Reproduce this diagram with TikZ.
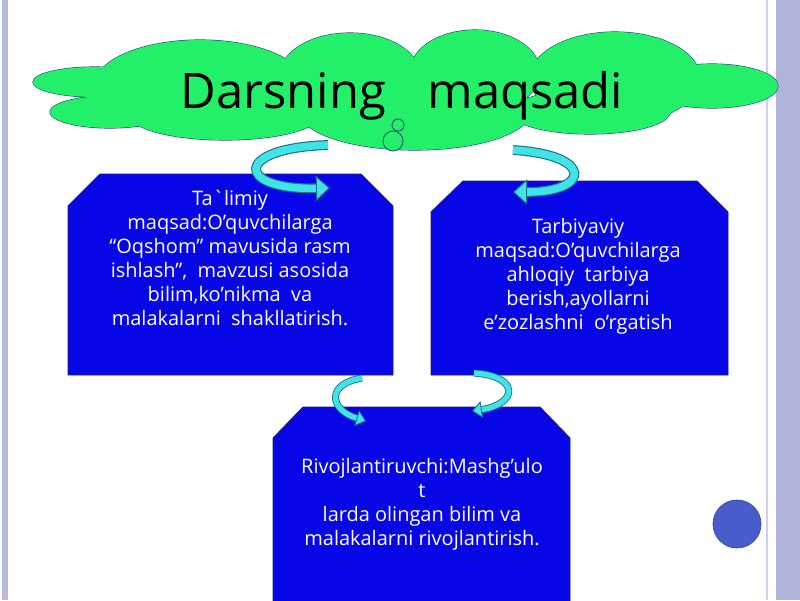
\documentclass[tikz,border=0pt]{standalone}
\usepackage{fontspec}
\setmainfont{Open Sans}
\usetikzlibrary{arrows.meta}
\definecolor{cloudgreen}{RGB}{34,240,104}
\definecolor{cloudline}{RGB}{40,70,130}
\definecolor{boxblue}{RGB}{6,6,230}
\definecolor{boxline}{RGB}{30,30,120}
\definecolor{arrowcyan}{RGB}{64,228,230}
\definecolor{arrowline}{RGB}{30,110,140}
\definecolor{stripblue}{RGB}{176,180,218}
\definecolor{stripline}{RGB}{208,208,234}
\definecolor{dotblue}{RGB}{72,92,204}
\newcommand{\cloudpuffs}{(95,82) ellipse (62 and 15) (110,112) ellipse (60 and 16)
  (200,85) ellipse (105 and 45) (350,75) ellipse (70 and 42) (475,72) ellipse (65 and 42)
  (615,78) ellipse (85 and 46) (712,86) ellipse (66 and 22) (415,112) ellipse (115 and 38)
  (590,112) ellipse (80 and 22) (225,115) ellipse (95 and 25)}

\begin{document}
\begin{tikzpicture}[x=0.025cm,y=-0.025cm]
\tikzstyle{goalbox}=[fill=boxblue,draw=boxline,line width=0.6pt]
\tikzstyle{goaltext}=[text=white,align=center,inner sep=0pt,font=\fontsize{14.2}{17}\selectfont]
\tikzstyle{turnline}=[draw=arrowline,line width=7pt,-{Triangle[length=10pt,width=18pt,line width=0.7pt,fill=arrowcyan]}]
\tikzstyle{turnfill}=[draw=arrowcyan,line width=5.4pt,shorten >=10pt]
\tikzstyle{smallline}=[draw=arrowline,line width=5pt,-{Triangle[length=7pt,width=12pt,line width=0.6pt,fill=arrowcyan]}]
\tikzstyle{smallfill}=[draw=arrowcyan,line width=3.8pt,shorten >=7pt]
\useasboundingbox (0,0) rectangle (800,600);
\fill [white] (0,0) rectangle (800,600);
% side strips
\fill [stripblue!90!white] (2,0) rectangle (8,600);
\fill [stripblue] (776,0) rectangle (800,600);
\draw [stripline,line width=2pt] (767,0) -- (767,600);
% cloud with title
\draw [cloudline,fill=cloudgreen,line width=0.8pt] \cloudpuffs;
\fill [cloudgreen] \cloudpuffs;
\draw [cloudline,fill=cloudgreen,line width=0.6pt] (398,125) circle (6);
\draw [cloudline,fill=cloudgreen,line width=0.6pt] (393,141) circle (10);
\node [anchor=base,inner sep=0pt,font=\fontsize{34.8}{40}\selectfont] (title) at (402,108) {Darsning\hspace{0.85em}maqsadi};
% boxes
\draw [goalbox] (68,375) -- (68,206) -- (100,174) -- (361,174) -- (393,206) -- (393,375) -- cycle;
\draw [goalbox] (431,375) -- (431,212) -- (463,181) -- (697,181) -- (728,212) -- (728,375) -- cycle;
\draw [goalbox] (273,610) -- (273,438) -- (303,407) -- (540,407) -- (570,438) -- (570,610) -- cycle;
\node [goaltext] (talim) at (230,258) {Ta\textasciigrave limiy\\maqsad:O’quvchilarga\\“Oqshom” mavusida rasm\\ishlash”,~ mavzusi asosida\\bilim,ko’nikma~ va\\malakalarni~ shakllatirish.};
\node [goaltext] (tarbiya) at (578,276) {Tarbiyaviy\\maqsad:O’quvchilarga\\ahloqiy~ tarbiya\\berish,ayollarni\\e’zozlashni~ o’rgatish};
\node [goaltext] (rivoj) at (422,504) {Rivojlantiruvchi:Mashg’ulo\\t\\larda olingan bilim va\\malakalarni rivojlantirish.};
% round dot
\draw [dotblue!80!black,fill=dotblue,line width=0.5pt] (737,524) circle (24);
% turning arrows
\coordinate (a1s) at (328,145);
\coordinate (a1e) at (330,188);
\coordinate (a2s) at (513,150);
\coordinate (a2e) at (513,192);
\coordinate (a3s) at (362,378);
\coordinate (a3e) at (366,421);
\coordinate (a4s) at (474,373);
\coordinate (a4e) at (472,411);
\draw [turnline] (a1s) .. controls (232,148) and (236,190) .. (a1e);
\draw [turnfill] (a1s) .. controls (232,148) and (236,190) .. (a1e);
\draw [turnline] (a2s) .. controls (595,155) and (590,192) .. (a2e);
\draw [turnfill] (a2s) .. controls (595,155) and (590,192) .. (a2e);
\draw [smallline] (a3s) .. controls (325,384) and (330,410) .. (a3e);
\draw [smallfill] (a3s) .. controls (325,384) and (330,410) .. (a3e);
\draw [smallline] (a4s) .. controls (520,376) and (518,404) .. (a4e);
\draw [smallfill] (a4s) .. controls (520,376) and (518,404) .. (a4e);
\end{tikzpicture}
\end{document}
